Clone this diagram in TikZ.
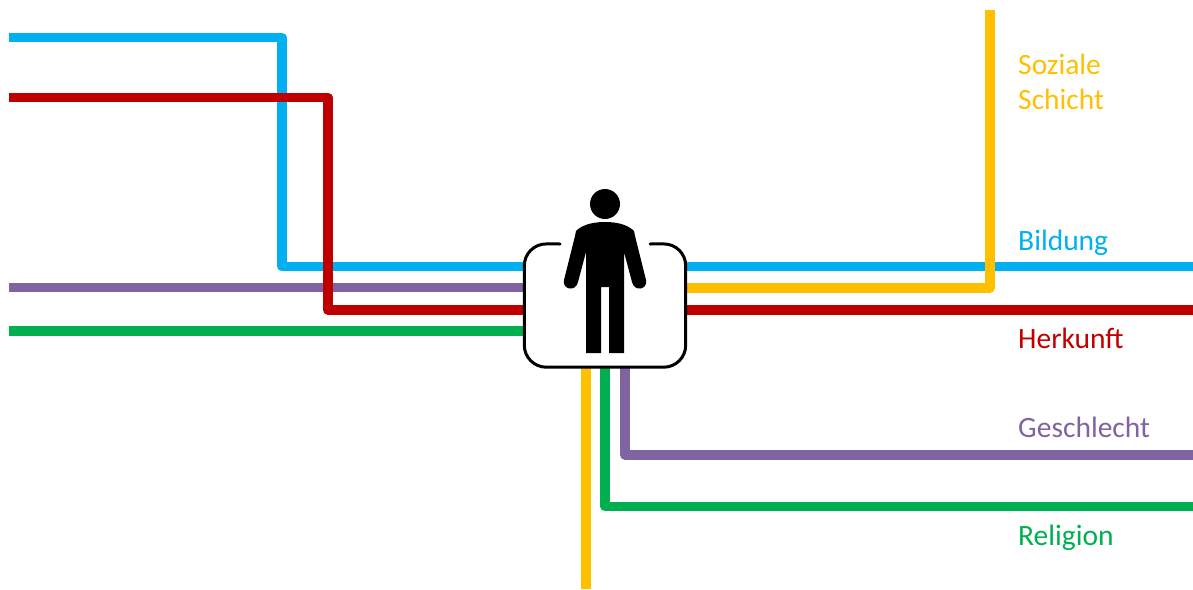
\documentclass[tikz,border=0pt]{standalone}
\usepackage{fontspec}
\setmainfont{Carlito}
\usepackage{xcolor}
\definecolor{bildungcol}{HTML}{00B0F0}
\definecolor{herkunftcol}{HTML}{C00000}
\definecolor{geschlechtcol}{HTML}{8064A2}
\definecolor{religioncol}{HTML}{00B050}
\definecolor{schichtcol}{HTML}{FFC000}
\usetikzlibrary{calc}

\begin{document}
\begin{tikzpicture}[
        x=1pt, y=-1pt,
        strand/.style={line width=9.5pt, line join=round},
        caption/.style={anchor=base west, inner sep=0pt, font=\fontsize{29.5pt}{34pt}\selectfont, align=left},
        boxfill/.style={rectangle, fill=white, rounded corners=22pt, minimum width=161pt, minimum height=123pt, inner sep=0pt}
    ]
        \useasboundingbox (0,0) rectangle (1193,589);

        % left ends
        \coordinate (bildungin) at (9,37.5);
        \coordinate (herkunftin) at (9,97.5);
        \coordinate (geschlechtin) at (9,287.5);
        \coordinate (religionin) at (9,331);
        % right ends
        \coordinate (bildungout) at (1193,266.5);
        \coordinate (herkunftout) at (1193,310);
        \coordinate (geschlechtout) at (1193,455);
        \coordinate (religionout) at (1193,506.5);
        \coordinate (schichtin) at (586,589);
        \coordinate (schichtout) at (990,10);
        \coordinate (schichtmid) at (687,288);

        \node[boxfill] (box) at (605,305.5) {};

        % strands
        \draw[strand, bildungcol] (bildungin) -| (282,266.5) -- (bildungout);
        \draw[strand, schichtcol] (schichtmid) -| (schichtout);
        \draw[strand, geschlechtcol] (geschlechtin) -- (geschlechtin -| box.west);
        \draw[strand, geschlechtcol] (625,367) |- (geschlechtout);
        \draw[strand, religioncol] (religionin) -- (religionin -| box.west);
        \draw[strand, religioncol] (605,367) |- (religionout);
        \draw[strand, schichtcol] (schichtin) -- (schichtin |- box.south);
        \draw[strand, herkunftcol] (herkunftin) -| (328,310) -- (herkunftout);

        % box outline, open at the top
        \node[boxfill] (boxcover) at (box.center) {};
        \draw[line width=3pt, line cap=round, rounded corners=22pt]
            (560,244) -- (box.north west) -- (box.south west) -- (box.south east) -- (box.north east) -- (650,244);

        % person
        \node[circle, fill=black, minimum size=30pt, inner sep=0pt] (head) at (605,204) {};
        \fill (605,222) .. controls (590,222) and (581,226) .. (576,231)
            -- (575,236) -- (564,280) .. controls (562,290) and (576,292) .. (578,282)
            -- (586,252) -- (586,353) -- (601,353) -- (601,287) -- (609,287) -- (609,353) -- (624,353) -- (624,252)
            -- (632,282) .. controls (634,292) and (648,290) .. (646,280)
            -- (635,236) -- (634,231) .. controls (629,226) and (620,222) .. (605,222) -- cycle;

        % labels
        \node[caption, text=schichtcol] (schichtlabel) at (1018,74.5) {Soziale};
        \node[caption, text=schichtcol] (schichtlabelb) at (1018,109) {Schicht};
        \node[caption, text=bildungcol] (bildunglabel) at (1018,250) {Bildung};
        \node[caption, text=herkunftcol] (herkunftlabel) at (1018,348) {Herkunft};
        \node[caption, text=geschlechtcol] (geschlechtlabel) at (1018,437) {Geschlecht};
        \node[caption, text=religioncol] (religionlabel) at (1018,545) {Religion};
    \end{tikzpicture}
\end{document}
